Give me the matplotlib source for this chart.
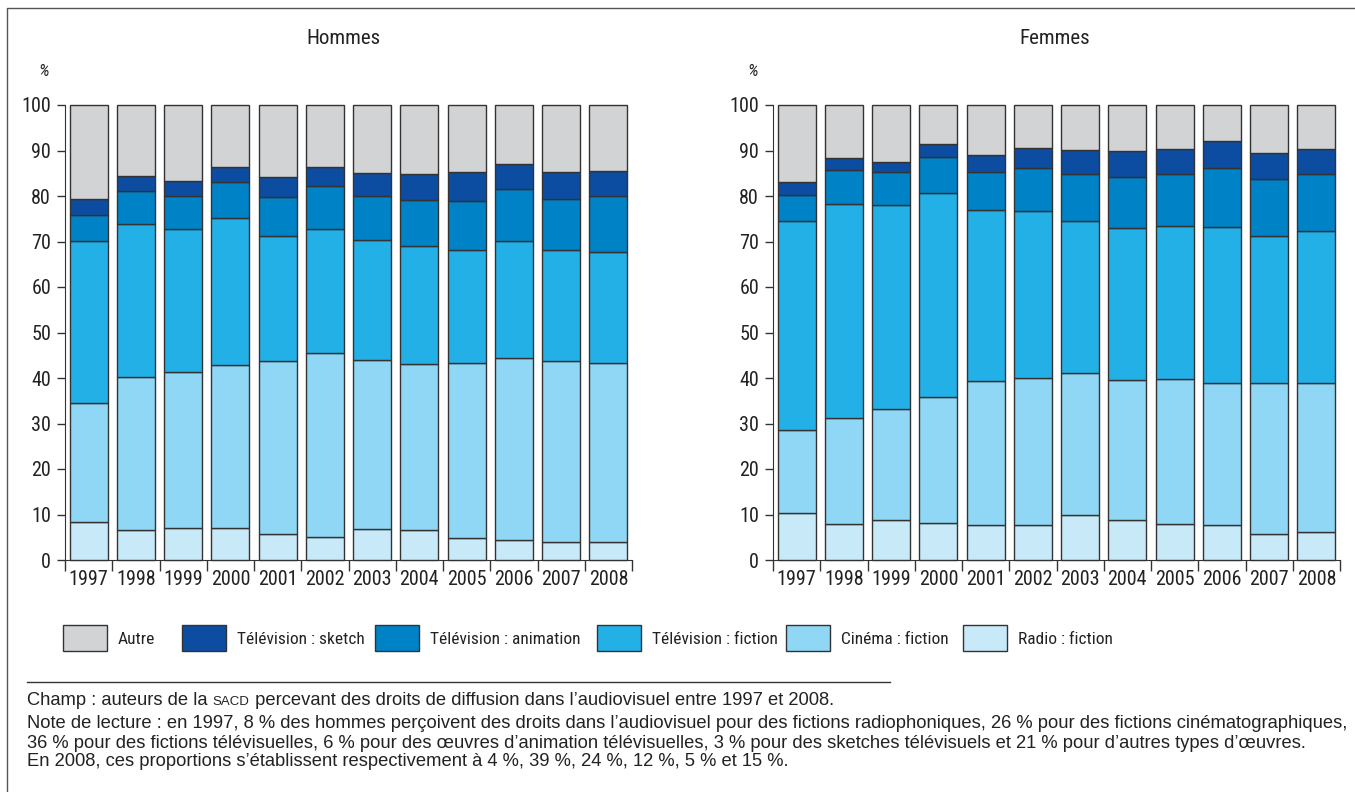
import matplotlib
matplotlib.use("Agg")
import matplotlib.pyplot as plt
import numpy as np
from matplotlib import font_manager
from matplotlib.patches import Rectangle
from matplotlib.lines import Line2D

# --- Data (parts en %) ---
years = ["1997", "1998", "1999", "2000", "2001", "2002",
         "2003", "2004", "2005", "2006", "2007", "2008"]

series = ["Radio : fiction", "Cinéma : fiction", "Télévision : fiction",
          "Télévision : animation", "Télévision : sketch", "Autre"]

hommes_radio = [8.3, 6.5, 7.1, 7.0, 5.8, 5.1, 6.8, 6.5, 4.8, 4.5, 3.9, 3.9]
hommes_cinema = [26.2, 33.8, 34.3, 35.9, 38.0, 40.5, 37.1, 36.6, 38.6, 39.8, 39.8, 39.3]
hommes_tv_fiction = [35.6, 33.6, 31.3, 32.2, 27.5, 27.2, 26.4, 26.0, 24.8, 25.8, 24.4, 24.6]
hommes_tv_animation = [5.7, 7.1, 7.4, 8.0, 8.5, 9.4, 9.6, 10.1, 10.7, 11.5, 11.2, 12.1]
hommes_tv_sketch = [3.5, 3.4, 3.1, 3.3, 4.4, 4.2, 5.1, 5.7, 6.3, 5.5, 5.9, 5.5]
hommes_autre = [20.7, 15.6, 16.8, 13.6, 15.8, 13.6, 15.0, 15.1, 14.8, 12.9, 14.8, 14.6]

femmes_radio = [10.4, 7.9, 8.8, 8.1, 7.7, 7.7, 10.0, 8.8, 7.9, 7.7, 5.7, 6.1]
femmes_cinema = [18.2, 23.4, 24.4, 27.8, 31.6, 32.3, 31.0, 30.7, 31.9, 31.3, 33.2, 32.7]
femmes_tv_fiction = [45.9, 47.0, 44.9, 44.8, 37.7, 36.8, 33.4, 33.4, 33.6, 34.1, 32.2, 33.6]
femmes_tv_animation = [5.8, 7.4, 7.2, 7.9, 8.2, 9.3, 10.4, 11.3, 11.5, 13.1, 12.6, 12.5]
femmes_tv_sketch = [2.7, 2.7, 2.1, 2.8, 3.9, 4.5, 5.3, 5.8, 5.4, 5.8, 5.8, 5.5]
femmes_autre = [17.0, 11.6, 12.6, 8.6, 10.9, 9.4, 9.9, 10.0, 9.7, 8.0, 10.5, 9.6]

colors = ["#c8e9f8", "#8fd7f5", "#22b0e6", "#0082c6", "#0c4da2", "#d1d3d4"]

# condensed font if one is installed, otherwise a plain sans at a smaller size
_avail = {f.name for f in font_manager.fontManager.ttflist}
_narrow = next((n for n in ["Liberation Sans Narrow", "Roboto Condensed",
                            "Open Sans Condensed", "DejaVu Sans Condensed"]
                if n in _avail), None)
if _narrow:
    COND = [_narrow, "DejaVu Sans"]
    TICK_FS, TITLE_FS, LEG_FS = 14.5, 15, 12.5
else:
    COND = ["Liberation Sans", "DejaVu Sans"]
    TICK_FS, TITLE_FS, LEG_FS = 10.8, 12, 10
NOTE = ["Liberation Sans", "DejaVu Sans"]
NOTE_FS = 13.2
EDGE = "#333333"
TXT = "#222222"

W, H = 1355, 792
fig = plt.figure(figsize=(W / 100, H / 100), dpi=100)


def fx(px):
    return px / W


def fy(py):
    return 1 - py / H


def draw_panel(ax, data):
    x = np.arange(len(years))
    bottom = np.zeros(len(years))
    for vals, col in zip(data, colors):
        ax.bar(x, vals, width=0.8, bottom=bottom, color=col,
               edgecolor=EDGE, linewidth=1, clip_on=False, zorder=3)
        bottom += np.array(vals)
    ax.set_xlim(-0.5, len(years) - 0.5)
    ax.set_ylim(0, 100)
    ax.set_yticks(np.arange(0, 101, 10))
    ax.set_yticklabels([str(v) for v in range(0, 101, 10)],
                       family=COND, fontsize=TICK_FS, color=TXT)
    ax.set_xticks(x)
    ax.set_xticklabels(years, family=COND, fontsize=TICK_FS, color=TXT)
    ax.set_xticks(np.arange(-0.5, len(years)), minor=True)
    ax.tick_params(axis="x", which="major", length=0, pad=7)
    ax.tick_params(axis="x", which="minor", length=8, width=1,
                   direction="out", color=EDGE)
    ax.tick_params(axis="y", length=6, width=1, direction="out",
                   color=EDGE, pad=4)
    for s in ("top", "right"):
        ax.spines[s].set_visible(False)
    ax.spines["left"].set_bounds(0, 100)
    ax.spines["left"].set_color(EDGE)
    ax.spines["bottom"].set_color(EDGE)
    ax.patch.set_alpha(0)


ax_h = fig.add_axes([fx(65), fy(560), fx(567), 455 / H])
ax_f = fig.add_axes([fx(773), fy(560), fx(567), 455 / H])

draw_panel(ax_h, [hommes_radio, hommes_cinema, hommes_tv_fiction,
                  hommes_tv_animation, hommes_tv_sketch, hommes_autre])
draw_panel(ax_f, [femmes_radio, femmes_cinema, femmes_tv_fiction,
                  femmes_tv_animation, femmes_tv_sketch, femmes_autre])

fig.text(fx(343), fy(38), "Hommes", ha="center", va="center",
         family=COND, fontsize=TITLE_FS, color=TXT)
fig.text(fx(1055), fy(38), "Femmes", ha="center", va="center",
         family=COND, fontsize=TITLE_FS, color=TXT)
for px in (44, 753):
    fig.text(fx(px), fy(72), "%", ha="center", va="center",
             family=COND, fontsize=LEG_FS, style="italic", color=TXT)

# Legend (order as in the reference)
legend_order = [5, 4, 3, 2, 1, 0]
legend_x = [63, 182, 375, 597, 786, 963]
for idx, px in zip(legend_order, legend_x):
    fig.patches.append(Rectangle((fx(px), fy(651)), fx(44), 26 / H,
                                 transform=fig.transFigure,
                                 facecolor=colors[idx], edgecolor=EDGE,
                                 linewidth=1))
    fig.text(fx(px + 55), fy(639), series[idx], ha="left", va="center",
             family=COND, fontsize=LEG_FS, color=TXT)

# Frame and separator
fig.lines.append(Line2D([fx(7), fx(7), 1], [0, fy(8), fy(8)],
                        transform=fig.transFigure, color="#555555",
                        linewidth=1))
fig.lines.append(Line2D([fx(27), fx(890)], [fy(682), fy(682)],
                        transform=fig.transFigure, color="#333333",
                        linewidth=1))

# Notes: "Champ" line with SACD in small capitals, chained on the baseline
renderer = fig.canvas.get_renderer()
x_px, base = 27, fy(705)
for chunk, size in [("Champ : auteurs de la ", NOTE_FS),
                    ("SACD", NOTE_FS * 0.72),
                    (" percevant des droits de diffusion dans l’audiovisuel entre 1997 et 2008.", NOTE_FS)]:
    t = fig.text(fx(x_px), base, chunk, ha="left", va="baseline",
                 family=NOTE, fontsize=size, color=TXT)
    x_px = t.get_window_extent(renderer).x1

note_lines = [
    "Note de lecture : en 1997, 8 % des hommes perçoivent des droits dans l’audiovisuel pour des fictions radiophoniques, 26 % pour des fictions cinématographiques,",
    "36 % pour des fictions télévisuelles, 6 % pour des œuvres d’animation télévisuelles, 3 % pour des sketches télévisuels et 21 % pour d’autres types d’œuvres.",
    "En 2008, ces proportions s’établissent respectivement à 4 %, 39 %, 24 %, 12 %, 5 % et 15 %.",
]
for line, py in zip(note_lines, (724, 743, 762)):
    fig.text(fx(27), fy(py), line, ha="left", va="center", family=NOTE,
             fontsize=NOTE_FS, color=TXT)

fig.savefig("out.png", dpi=100, facecolor="white")
